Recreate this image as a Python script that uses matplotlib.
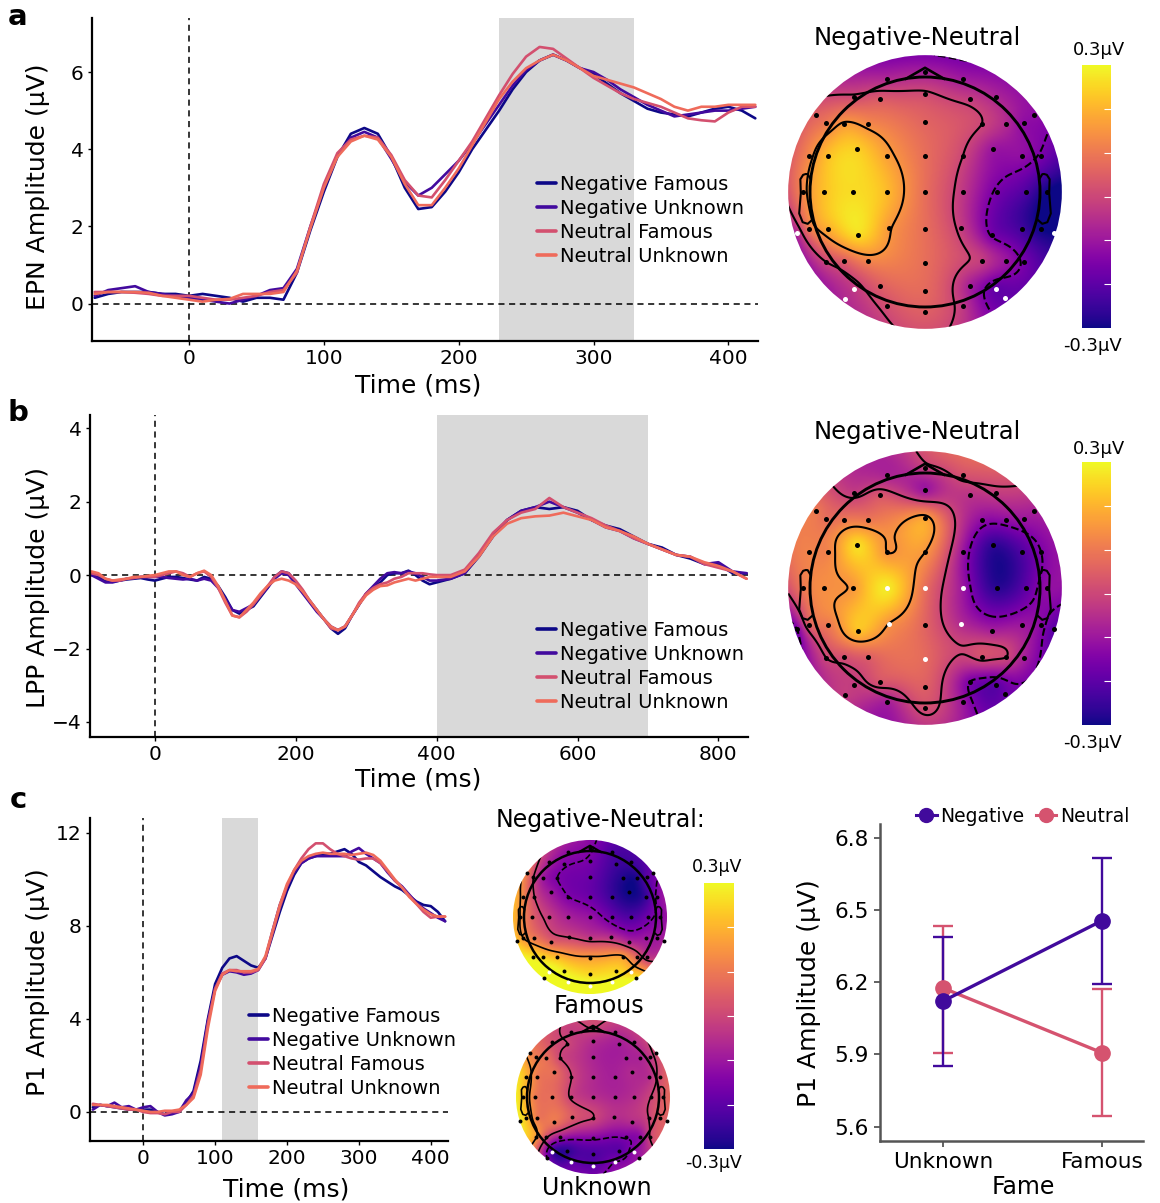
import numpy as np
import matplotlib
matplotlib.use("Agg")
import matplotlib.pyplot as plt
from matplotlib.patches import Circle
from matplotlib.cm import ScalarMappable
from matplotlib.colors import Normalize
from matplotlib.lines import Line2D

# ---------------- data ----------------
cond_labels = ["Negative Famous", "Negative Unknown", "Neutral Famous", "Neutral Unknown"]
cond_colors = ["#0d0887", "#420a9e", "#d3506f", "#ef6b5b"]

# a: EPN waveforms
t_a = np.arange(-70, 421, 10)
epn_neg_fam = [0.15, 0.25, 0.3, 0.3, 0.3, 0.25, 0.25, 0.2, 0.25, 0.2, 0.15, 0.05, 0.15, 0.15, 0.1,
               0.8, 1.9, 2.9, 3.8, 4.4, 4.55, 4.4, 3.8, 3.0, 2.45, 2.5, 2.9, 3.4, 4.0, 4.5, 5.0,
               5.55, 6.0, 6.3, 6.45, 6.3, 6.1, 5.95, 5.7, 5.45, 5.25, 5.05, 4.95, 4.9, 4.85, 4.95,
               5.05, 5.1, 5.0, 4.8]
epn_neg_unk = [0.2, 0.35, 0.4, 0.45, 0.3, 0.25, 0.2, 0.15, 0.1, 0.05, 0.0, 0.1, 0.2, 0.35, 0.4,
               0.9, 2.0, 3.0, 3.85, 4.3, 4.45, 4.3, 3.75, 3.15, 2.8, 3.0, 3.35, 3.7, 4.15, 4.65, 5.15,
               5.65, 6.05, 6.3, 6.45, 6.3, 6.1, 6.0, 5.8, 5.55, 5.35, 5.15, 5.0, 4.85, 4.9, 4.95,
               5.0, 5.0, 5.05, 5.1]
epn_neu_fam = [0.3, 0.3, 0.3, 0.28, 0.25, 0.2, 0.2, 0.2, 0.15, 0.1, 0.1, 0.15, 0.2, 0.3, 0.35,
               0.8, 2.0, 3.1, 3.9, 4.25, 4.35, 4.3, 3.85, 3.2, 2.8, 2.75, 3.2, 3.7, 4.2, 4.8, 5.4,
               5.95, 6.4, 6.65, 6.6, 6.35, 6.1, 5.85, 5.65, 5.45, 5.3, 5.2, 5.1, 4.95, 4.8, 4.75,
               4.72, 4.95, 5.1, 5.1]
epn_neu_unk = [0.25, 0.3, 0.3, 0.3, 0.28, 0.2, 0.15, 0.1, 0.05, 0.1, 0.12, 0.25, 0.25, 0.25, 0.3,
               0.85, 1.95, 3.0, 3.8, 4.2, 4.35, 4.25, 3.8, 3.1, 2.55, 2.55, 3.0, 3.5, 4.1, 4.7, 5.3,
               5.75, 6.1, 6.3, 6.45, 6.3, 6.1, 5.9, 5.8, 5.7, 5.6, 5.45, 5.3, 5.1, 5.0, 5.1,
               5.1, 5.15, 5.15, 5.15]

# b: LPP waveforms
t_b = np.concatenate([np.arange(-90, 401, 10), np.arange(420, 841, 20)])
lpp_neg_fam = [0.0, -0.05, -0.15, -0.18, -0.15, -0.12, -0.1, -0.08, -0.12,
               -0.15, -0.1, -0.05, -0.05, -0.08, -0.12, -0.15, -0.05, -0.1, -0.3, -0.6, -0.95, -1.05,
               -0.95, -0.85, -0.6, -0.35, -0.05, 0.1, 0.05, -0.2, -0.45, -0.7, -0.95, -1.2, -1.45,
               -1.6, -1.45, -1.1, -0.8, -0.5, -0.35, -0.2, 0.0, 0.05, 0.05, 0.12, 0.0, -0.15, -0.25,
               -0.2,
               -0.1, 0.05, 0.5, 1.05, 1.5, 1.75, 1.85, 1.8, 1.85, 1.75, 1.5, 1.35, 1.25, 1.05, 0.85,
               0.75, 0.55, 0.45, 0.3, 0.3, 0.05, 0.05]
lpp_neg_unk = [0.0, -0.1, -0.2, -0.2, -0.15, -0.1, -0.08, -0.05, -0.05,
               -0.05, -0.05, -0.08, -0.1, -0.12, -0.1, -0.15, -0.1, -0.15, -0.35, -0.65, -0.95, -1.0,
               -0.9, -0.8, -0.55, -0.35, -0.1, 0.05, 0.0, -0.25, -0.5, -0.75, -1.0, -1.2, -1.4,
               -1.5, -1.4, -1.1, -0.8, -0.5, -0.3, -0.1, 0.05, 0.08, 0.05, 0.1, 0.05, -0.05, -0.15,
               -0.15,
               -0.1, 0.05, 0.55, 1.1, 1.5, 1.75, 1.85, 2.0, 1.85, 1.7, 1.5, 1.3, 1.2, 1.0, 0.85,
               0.7, 0.55, 0.5, 0.3, 0.35, 0.1, 0.05]
lpp_neu_fam = [0.05, 0.0, -0.1, -0.15, -0.15, -0.1, -0.08, -0.05, -0.05,
               -0.05, 0.0, 0.05, 0.1, 0.05, -0.05, 0.05, 0.1, -0.05, -0.35, -0.75, -1.1, -1.15,
               -1.0, -0.8, -0.55, -0.3, -0.05, 0.1, 0.05, -0.15, -0.4, -0.7, -0.95, -1.2, -1.45,
               -1.5, -1.4, -1.1, -0.75, -0.5, -0.35, -0.25, -0.2, -0.1, -0.05, 0.05, 0.05, 0.05, 0.02,
               0.0,
               0.0, 0.15, 0.6, 1.15, 1.5, 1.7, 1.8, 2.1, 1.85, 1.7, 1.55, 1.35, 1.2, 1.0, 0.85,
               0.7, 0.55, 0.5, 0.3, 0.2, 0.1, -0.1]
lpp_neu_unk = [0.1, 0.05, -0.1, -0.15, -0.12, -0.1, -0.05, -0.05, -0.02,
               0.0, 0.05, 0.1, 0.1, 0.0, -0.05, 0.05, 0.12, 0.0, -0.3, -0.7, -1.1, -1.15,
               -0.95, -0.75, -0.5, -0.3, -0.15, -0.1, -0.15, -0.25, -0.45, -0.7, -0.95, -1.2, -1.4,
               -1.5, -1.4, -1.1, -0.8, -0.55, -0.4, -0.3, -0.28, -0.2, -0.15, -0.1, -0.15, -0.1, -0.05,
               -0.05,
               -0.05, 0.1, 0.5, 1.05, 1.4, 1.55, 1.6, 1.62, 1.7, 1.6, 1.5, 1.3, 1.2, 1.05, 0.85,
               0.7, 0.55, 0.5, 0.35, 0.25, 0.1, -0.1]

# c: P1 waveforms
t_c = np.arange(-70, 421, 10)
p1_neg_fam = [0.2, 0.3, 0.25, 0.2, 0.15, 0.1, 0.1, 0.1, 0.1, 0.0, -0.1, -0.05, 0.05, 0.4, 0.9,
              2.2, 4.0, 5.5, 6.2, 6.6, 6.7, 6.5, 6.3, 6.2, 6.6, 7.6, 8.6, 9.5, 10.2, 10.7, 10.9,
              11.0, 11.1, 11.1, 11.2, 11.3, 11.1, 10.75, 10.6, 10.35, 10.1, 9.9, 9.7, 9.55, 9.3,
              9.05, 8.9, 8.85, 8.6, 8.2]
p1_neg_unk = [0.1, 0.3, 0.25, 0.4, 0.2, 0.25, 0.1, 0.2, 0.25, 0.0, -0.15, -0.1, 0.0, 0.5, 0.8,
              2.0, 3.9, 5.3, 5.9, 6.05, 6.0, 5.9, 5.95, 6.1, 6.6, 7.8, 8.9, 9.7, 10.3, 10.7, 10.9,
              11.0, 11.0, 11.0, 11.0, 11.0, 11.2, 11.35, 11.1, 10.9, 10.7, 10.3, 9.95, 9.7, 9.35,
              9.0, 8.75, 8.55, 8.35, 8.2]
p1_neu_fam = [0.35, 0.3, 0.25, 0.2, 0.15, 0.1, 0.1, 0.0, -0.05, -0.05, -0.1, 0.0, 0.0, 0.3, 0.7,
              1.8, 3.8, 5.3, 5.95, 6.1, 6.1, 6.0, 6.0, 6.1, 6.6, 7.7, 8.8, 9.7, 10.4, 10.9, 11.3,
              11.55, 11.55, 11.3, 11.1, 11.0, 10.9, 10.85, 10.9, 10.9, 10.7, 10.35, 9.95, 9.65, 9.3,
              8.95, 8.6, 8.35, 8.4, 8.4]
p1_neu_unk = [0.3, 0.3, 0.3, 0.25, 0.2, 0.15, 0.1, 0.05, 0.0, 0.0, 0.05, 0.05, 0.1, 0.3, 0.6,
              1.6, 3.6, 5.2, 5.9, 6.1, 6.05, 6.05, 6.05, 6.15, 6.7, 7.8, 8.9, 9.8, 10.4, 10.8, 11.0,
              11.1, 11.15, 11.1, 11.1, 11.1, 11.05, 11.1, 11.15, 11.05, 10.8, 10.4, 10.0, 9.65, 9.25,
              8.95, 8.7, 8.5, 8.4, 8.4]

# c: P1 means and 95% CI per fame level
fame_levels = ["Unknown", "Famous"]
p1_negative_mean = [6.122, 6.455]
p1_negative_lo = [5.853, 6.194]
p1_negative_hi = [6.389, 6.717]
p1_neutral_mean = [6.175, 5.907]
p1_neutral_lo = [5.905, 5.645]
p1_neutral_hi = [6.435, 6.172]

# electrode layout (head radius = 1)
elec_names = ["Fp1", "Fpz", "Fp2",
              "AF7", "AF3", "AFz", "AF4", "AF8",
              "F9", "F10",
              "F7", "F5", "F3", "Fz", "F4", "F6", "F8",
              "FT7", "FC5", "FC3", "FC1", "FCz", "FC2", "FC4", "FC6", "FT8",
              "T7", "C5", "C3", "C1", "Cz", "C2", "C4", "C6", "T8",
              "TP7", "CP5", "CP3", "CP1", "CPz", "CP2", "CP4", "CP6", "TP8",
              "P7", "P5", "P3", "Pz", "P4", "P6", "P8",
              "PO7", "PO3", "POz", "PO4", "PO8",
              "O1", "Oz", "O2",
              "TP9", "TP10", "PO9", "PO10"]
elec_x = [-0.33, 0.0, 0.33,
          -0.62, -0.39, 0.0, 0.39, 0.62,
          -0.95, 0.95,
          -0.857, -0.707, -0.493, 0.0, 0.493, 0.707, 0.857,
          -1.01, -0.843, -0.591, -0.328, 0.0, 0.328, 0.591, 0.843, 1.01,
          -1.06, -0.875, -0.623, -0.328, 0.0, 0.328, 0.623, 0.875, 1.06,
          -1.01, -0.843, -0.586, -0.316, 0.0, 0.316, 0.586, 0.843, 1.01,
          -0.857, -0.707, -0.493, 0.0, 0.493, 0.707, 0.857,
          -0.62, -0.388, 0.0, 0.388, 0.62,
          -0.328, 0.0, 0.328,
          -1.113, 1.119, -0.696, 0.699]
elec_y = [0.98, 1.04, 0.98,
          0.83, 0.81, 0.855, 0.81, 0.83,
          0.67, 0.67,
          0.6, 0.59, 0.59, 0.61, 0.59, 0.59, 0.6,
          0.31, 0.31, 0.377, 0.31, 0.31, 0.31, 0.377, 0.31, 0.31,
          0.0, 0.0, 0.0, 0.0, 0.0, 0.0, 0.0, 0.0, 0.0,
          -0.32, -0.32, -0.374, -0.31, -0.32, -0.31, -0.374, -0.32, -0.32,
          -0.61, -0.6, -0.6, -0.614, -0.6, -0.6, -0.61,
          -0.84, -0.816, -0.858, -0.816, -0.84,
          -0.988, -1.04, -0.988,
          -0.36, -0.36, -0.93, -0.925]

# Negative - Neutral differences (µV) per electrode
topo_epn = [-0.06, -0.08, -0.09,
            0.01, 0.04, 0.01, -0.02, -0.07,
            0.06, -0.12,
            0.1, 0.16, 0.13, 0.06, 0.0, -0.06, -0.12,
            0.13, 0.22, 0.24, 0.17, 0.08, 0.0, -0.1, -0.12, -0.16,
            0.13, 0.22, 0.26, 0.21, 0.08, -0.03, -0.16, -0.22, -0.3,
            0.1, 0.19, 0.26, 0.16, 0.08, -0.02, -0.16, -0.24, -0.3,
            0.0, 0.05, 0.12, 0.08, -0.02, -0.1, -0.16,
            -0.03, 0.05, 0.07, -0.08, -0.19,
            0.02, 0.05, -0.03,
            -0.06, -0.3, -0.06, -0.19]
topo_lpp = [-0.07, -0.02, 0.02,
            -0.02, 0.03, -0.1, -0.04, -0.02,
            0.1, -0.08,
            0.08, 0.1, 0.1, 0.17, -0.12, -0.12, -0.1,
            0.12, 0.12, 0.26, 0.15, 0.15, -0.1, -0.26, -0.22, -0.15,
            0.1, 0.14, 0.16, 0.28, 0.08, -0.1, -0.27, -0.2, -0.12,
            0.05, 0.1, 0.22, 0.15, 0.06, -0.06, -0.08, -0.1, -0.13,
            0.0, 0.02, 0.05, 0.07, 0.02, 0.0, -0.08,
            -0.02, 0.03, 0.05, -0.15, -0.2,
            -0.08, 0.02, -0.1,
            -0.15, -0.2, -0.02, -0.18]
topo_p1_famous = [-0.12, -0.14, -0.22,
                  -0.08, -0.14, -0.16, -0.24, -0.24,
                  0.1, -0.18,
                  0.0, -0.1, -0.15, -0.18, -0.28, -0.28, -0.2,
                  0.12, 0.0, -0.1, -0.15, -0.18, -0.25, -0.3, -0.25, -0.14,
                  0.15, 0.05, -0.02, -0.08, -0.11, -0.18, -0.22, -0.17, -0.13,
                  0.15, 0.1, 0.05, 0.0, -0.03, -0.05, -0.07, -0.1, -0.1,
                  0.27, 0.24, 0.2, 0.16, 0.16, 0.05, -0.03,
                  0.32, 0.28, 0.25, 0.25, 0.22,
                  0.32, 0.32, 0.3,
                  0.22, -0.08, 0.32, 0.28]
topo_p1_unknown = [-0.02, 0.0, -0.05,
                   0.02, 0.0, -0.05, -0.08, -0.05,
                   0.12, 0.02,
                   0.1, 0.08, 0.0, -0.07, -0.08, -0.07, -0.03,
                   0.2, 0.1, 0.08, 0.0, -0.06, -0.08, -0.06, -0.05, 0.02,
                   0.22, 0.1, 0.08, -0.01, -0.05, -0.07, -0.05, 0.0, 0.05,
                   0.22, 0.1, 0.1, 0.04, 0.0, -0.05, -0.05, 0.0, 0.05,
                   0.15, 0.02, -0.08, -0.13, -0.14, -0.12, 0.0,
                   -0.24, -0.26, -0.22, -0.2, -0.12,
                   -0.2, -0.2, -0.15,
                   0.28, 0.05, -0.15, -0.1]
sig_epn = ["TP9", "TP10", "PO7", "PO9", "PO8", "PO10"]
sig_lpp = ["C1", "Cz", "C2", "CP1", "CP2", "Pz"]
sig_p1 = ["PO7", "O1", "Oz", "O2", "PO8"]

# ---------------- layout helpers ----------------
W, H = 1160, 1203
fig = plt.figure(figsize=(W / 100, H / 100), dpi=100)


def box(l, t, r, b):
    return [l / W, 1 - b / H, (r - l) / W, (b - t) / H]


def ftext(x, y, s, **kw):
    fig.text(x / W, 1 - y / H, s, ha="center", va="center", **kw)


def erp(rect, t, series, xlim, ylim, win, xticks, yticks, leg_xy):
    ax = fig.add_axes(box(*rect))
    ax.axvspan(win[0], win[1], color="#d9d9d9", lw=0, zorder=0)
    ax.axhline(0, color="k", lw=1.1, ls=(0, (4, 3)), zorder=1)
    ax.axvline(0, color="k", lw=1.1, ls=(0, (4, 3)), zorder=1)
    for vals, lab, c in zip(series, cond_labels, cond_colors):
        ax.plot(t, vals, color=c, lw=1.9, label=lab, zorder=2, solid_capstyle="round",
                solid_joinstyle="round")
    ax.set_xlim(*xlim)
    ax.set_ylim(*ylim)
    ax.set_xticks(xticks)
    ax.set_yticks(yticks)
    for s in ["top", "right"]:
        ax.spines[s].set_visible(False)
    for s in ["left", "bottom"]:
        ax.spines[s].set_linewidth(1.6)
    ax.tick_params(labelsize=14.5, length=3, width=1, pad=3)
    leg = ax.legend(loc="upper left", bbox_to_anchor=(leg_xy[0] / W, 1 - leg_xy[1] / H),
                    bbox_transform=fig.transFigure, frameon=False, fontsize=14,
                    handlelength=1.0, handletextpad=0.2, labelspacing=0.25,
                    borderpad=0, borderaxespad=0)
    for ln in leg.get_lines():
        ln.set_linewidth(2.6)
    return ax


ear_x = np.array([.497, .510, .518, .5299, .5419, .54, .547, .532, .510, .489]) * 2
ear_y = np.array([.0555, .0775, .0783, .0746, .0555, -.0055, -.0932, -.1313, -.1384, -.1199]) * 2


def tps(r):
    return np.where(r > 0, r ** 2 * np.log(np.maximum(r, 1e-12)), 0.0)


def topomap(center, head_r, img_r, vals, sig, lw=1.5, dot=13):
    half = 150 if head_r > 100 else 85
    ax = fig.add_axes(box(center[0] - half, center[1] - half, center[0] + half, center[1] + half))
    lim = half / head_r
    ex, ey, v = np.array(elec_x), np.array(elec_y), np.array(vals)
    n = len(ex)
    K = tps(np.hypot(ex[:, None] - ex[None, :], ey[:, None] - ey[None, :]))
    P = np.column_stack([np.ones(n), ex, ey])
    A = np.zeros((n + 3, n + 3))
    A[:n, :n] = K
    A[:n, n:] = P
    A[n:, :n] = P.T
    coef = np.linalg.solve(A, np.concatenate([v, np.zeros(3)]))
    g = np.linspace(-img_r, img_r, 260)
    gx, gy = np.meshgrid(g, g)
    z = tps(np.hypot(gx[..., None] - ex, gy[..., None] - ey)) @ coef[:n]
    z = z + coef[n] + coef[n + 1] * gx + coef[n + 2] * gy
    clip = Circle((0, 0), img_r, transform=ax.transData)
    im = ax.imshow(z, origin="lower", extent=[-img_r, img_r, -img_r, img_r], cmap="plasma",
                   vmin=-0.3, vmax=0.3, interpolation="bilinear", zorder=1)
    im.set_clip_path(clip)
    cs = ax.contour(gx, gy, z, levels=[-0.15, 0.0, 0.15], colors="k", linewidths=lw, zorder=2)
    cs.set_clip_path(clip)
    ax.add_patch(Circle((0, 0), 1.0, fill=False, lw=lw + 0.6, ec="k", zorder=3))
    ax.plot([-0.165, 0, 0.165], [0.985, 1.08, 0.985], color="k", lw=lw + 0.4, zorder=3)
    ax.plot(ear_x, ear_y, color="k", lw=lw, zorder=3)
    ax.plot(-ear_x, ear_y, color="k", lw=lw, zorder=3)
    is_sig = np.array([nm in sig for nm in elec_names])
    ax.scatter(ex[~is_sig], ey[~is_sig], s=dot, c="k", lw=0, zorder=4)
    ax.scatter(ex[is_sig], ey[is_sig], s=dot, c="white", lw=0, zorder=4)
    ax.set_xlim(-lim, lim)
    ax.set_ylim(-lim, lim)
    ax.set_aspect("equal")
    ax.axis("off")
    return ax


def cbar(rect, top_xy, bot_xy, fs=13):
    cax = fig.add_axes(box(*rect))
    sm = ScalarMappable(norm=Normalize(-0.3, 0.3), cmap="plasma")
    cb = fig.colorbar(sm, cax=cax)
    cb.outline.set_visible(False)
    cb.set_ticks([-0.2, -0.1, 0.0, 0.1, 0.2])
    cax.tick_params(direction="in", colors="white", length=5, width=0.8,
                    labelright=False, labelleft=False)
    ftext(*top_xy, "0.3µV", fontsize=fs)
    ftext(*bot_xy, "-0.3µV", fontsize=fs)


# ---------------- panel a ----------------
erp((92, 18, 758, 341), t_a, [epn_neg_fam, epn_neg_unk, epn_neu_fam, epn_neu_unk],
    (-72, 422), (-0.97, 7.4), (230, 330), [0, 100, 200, 300, 400], [0, 2, 4, 6], (537, 175))
ftext(38, 187, "EPN Amplitude (µV)", fontsize=18, rotation=90)
ftext(418, 385, "Time (ms)", fontsize=18)
ftext(18, 17, "a", fontsize=21, fontweight="bold")
topomap((925, 192), 115, 1.19, topo_epn, sig_epn)
ftext(917, 38, "Negative-Neutral", fontsize=17.5)
cbar((1082, 65, 1111, 328), (1099, 50), (1093, 346))

# ---------------- panel b ----------------
erp((90, 415, 748, 737), t_b, [lpp_neg_fam, lpp_neg_unk, lpp_neu_fam, lpp_neu_unk],
    (-92, 842), (-4.41, 4.36), (400, 700), [0, 200, 400, 600, 800], [-4, -2, 0, 2, 4], (537, 621))
ftext(38, 588, "LPP Amplitude (µV)", fontsize=18, rotation=90)
ftext(418, 779, "Time (ms)", fontsize=18)
ftext(18, 413, "b", fontsize=21, fontweight="bold")
topomap((925, 588), 115, 1.19, topo_lpp, sig_lpp)
ftext(917, 432, "Negative-Neutral", fontsize=17.5)
cbar((1082, 462, 1111, 725), (1099, 449), (1093, 743))

# ---------------- panel c ----------------
erp((90, 818, 448, 1141), t_c, [p1_neg_fam, p1_neg_unk, p1_neu_fam, p1_neu_unk],
    (-74, 424), (-1.25, 12.64), (110, 160), [0, 100, 200, 300, 400], [0, 4, 8, 12], (249, 1007))
ftext(38, 982, "P1 Amplitude (µV)", fontsize=18, rotation=90)
ftext(286, 1189, "Time (ms)", fontsize=18)
ftext(18, 800, "c", fontsize=21, fontweight="bold")

ftext(600, 820, "Negative-Neutral:", fontsize=17)
topomap((590, 917), 66, 1.167, topo_p1_famous, sig_p1, lw=1.2, dot=8)
ftext(599, 1006, "Famous", fontsize=17)
topomap((593, 1097), 66, 1.167, topo_p1_unknown, sig_p1, lw=1.2, dot=8)
ftext(597, 1188, "Unknown", fontsize=17)
cbar((704, 883, 734, 1149), (717, 867), (713, 1163), fs=12.5)

# interaction plot
axi = fig.add_axes(box(880, 824, 1143, 1141))
xpos = np.arange(len(fame_levels))
neg_c, neu_c = "#410a9c", "#d5536f"
for mean, lo, hi, c in [(p1_neutral_mean, p1_neutral_lo, p1_neutral_hi, neu_c),
                        (p1_negative_mean, p1_negative_lo, p1_negative_hi, neg_c)]:
    mean, lo, hi = np.array(mean), np.array(lo), np.array(hi)
    axi.errorbar(xpos, mean, yerr=[mean - lo, hi - mean], color=c, lw=2.4, elinewidth=1.7,
                 capsize=7, capthick=1.7, marker="o", ms=11)
axi.set_xlim(-0.4, 1.26)
axi.set_ylim(5.54, 6.857)
axi.set_xticks(xpos)
axi.set_xticklabels(fame_levels)
axi.set_yticks([5.6, 5.9, 6.2, 6.5, 6.8])
for s in ["top", "right"]:
    axi.spines[s].set_visible(False)
for s in ["left", "bottom"]:
    axi.spines[s].set_linewidth(1.8)
    axi.spines[s].set_color("#555555")
axi.tick_params(labelsize=15.5, length=4, width=1.3, color="#555555", pad=4)
ftext(809, 993, "P1 Amplitude (µV)", fontsize=18, rotation=90)
ftext(1023, 1187, "Fame", fontsize=17)
handles = [Line2D([], [], color=neg_c, marker="o", ms=10, lw=2.2),
           Line2D([], [], color=neu_c, marker="o", ms=10, lw=2.2)]
axi.legend(handles, ["Negative", "Neutral"], loc="center left",
           bbox_to_anchor=(916 / W, 1 - 816 / H), bbox_transform=fig.transFigure,
           ncol=2, frameon=False, fontsize=13.5, handlelength=1.1, handletextpad=0.2,
           columnspacing=0.6, borderpad=0, borderaxespad=0)

fig.savefig("out.png", dpi=100)
